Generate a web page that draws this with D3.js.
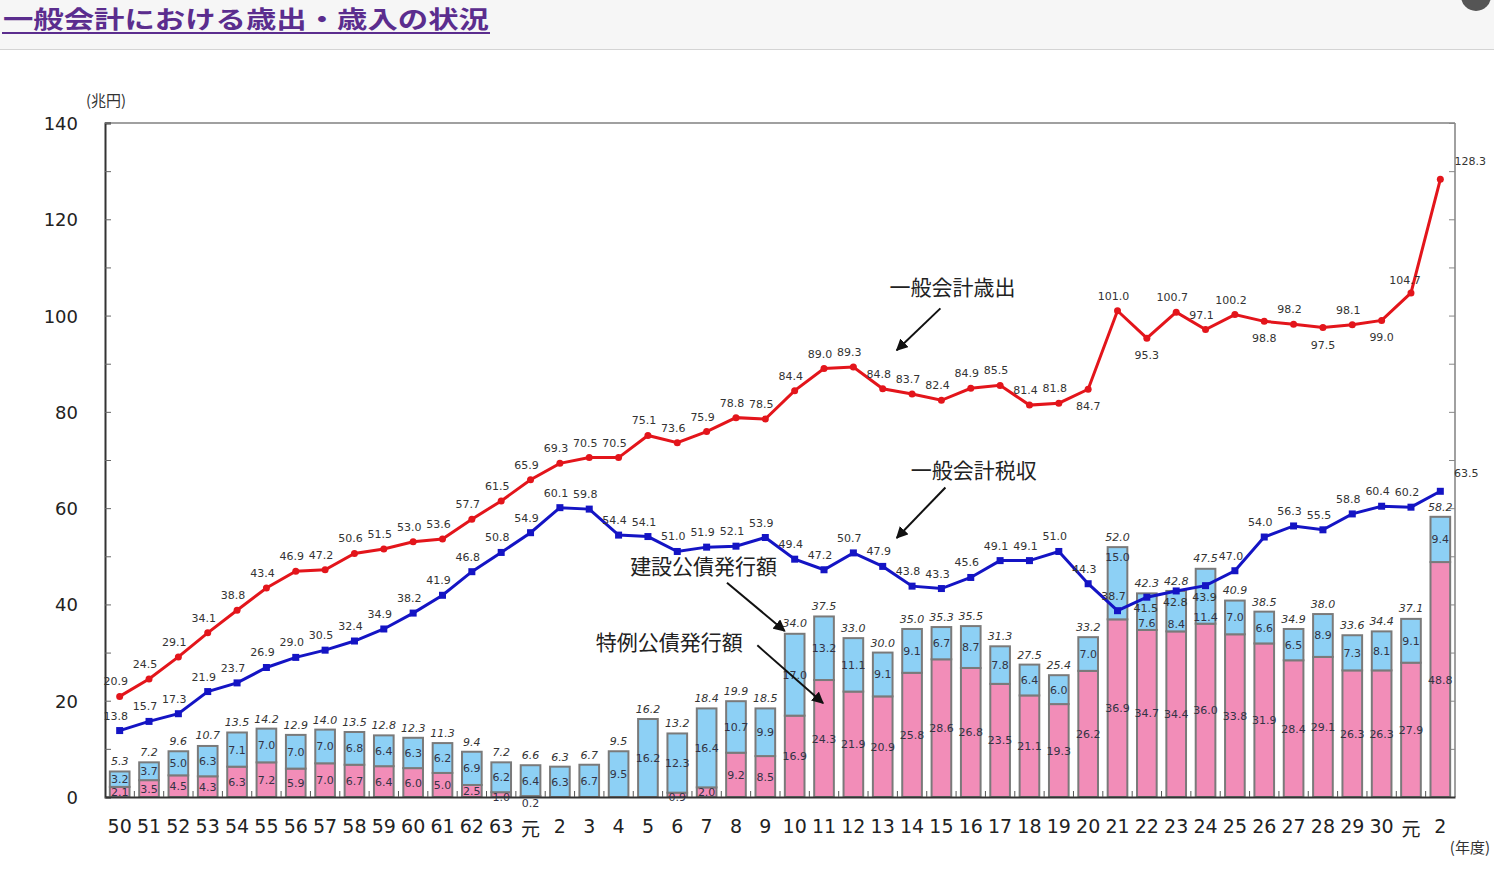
<!DOCTYPE html>
<html><head><meta charset="utf-8">
<script src="https://cdn.jsdelivr.net/npm/d3@7"></script>
<style>
html,body{margin:0;padding:0;background:#fff;}
svg{display:block;}
</style></head>
<body>
<svg id="chart" width="1494" height="869"></svg>
<script>
// ---- data ----
const yearLabels = ["50","51","52","53","54","55","56","57","58","59","60","61","62","63","元","2","3","4","5","6","7","8","9","10","11","12","13","14","15","16","17","18","19","20","21","22","23","24","25","26","27","28","29","30","元","2"];
const expenditure = [20.9,24.5,29.1,34.1,38.8,43.4,46.9,47.2,50.6,51.5,53.0,53.6,57.7,61.5,65.9,69.3,70.5,70.5,75.1,73.6,75.9,78.8,78.5,84.4,89.0,89.3,84.8,83.7,82.4,84.9,85.5,81.4,81.8,84.7,101.0,95.3,100.7,97.1,100.2,98.8,98.2,97.5,98.1,99.0,104.7,128.3];
const taxRevenue = [13.8,15.7,17.3,21.9,23.7,26.9,29.0,30.5,32.4,34.9,38.2,41.9,46.8,50.8,54.9,60.1,59.8,54.4,54.1,51.0,51.9,52.1,53.9,49.4,47.2,50.7,47.9,43.8,43.3,45.6,49.1,49.1,51.0,44.3,38.7,41.5,42.8,43.9,47.0,54.0,56.3,55.5,58.8,60.4,60.2,63.5];
const bondTotal = [5.3,7.2,9.6,10.7,13.5,14.2,12.9,14.0,13.5,12.8,12.3,11.3,9.4,7.2,6.6,6.3,6.7,9.5,16.2,13.2,18.4,19.9,18.5,34.0,37.5,33.0,30.0,35.0,35.3,35.5,31.3,27.5,25.4,33.2,52.0,42.3,42.8,47.5,40.9,38.5,34.9,38.0,33.6,34.4,37.1,58.2];
const constructionBonds = [3.2,3.7,5.0,6.3,7.1,7.0,7.0,7.0,6.8,6.4,6.3,6.2,6.9,6.2,6.4,6.3,6.7,9.5,16.2,12.3,16.4,10.7,9.9,17.0,13.2,11.1,9.1,9.1,6.7,8.7,7.8,6.4,6.0,7.0,15.0,7.6,8.4,11.4,7.0,6.6,6.5,8.9,7.3,8.1,9.1,9.4];
const specialBonds = [2.1,3.5,4.5,4.3,6.3,7.2,5.9,7.0,6.7,6.4,6.0,5.0,2.5,1.0,0.2,0,0,0,0,0.9,2.0,9.2,8.5,16.9,24.3,21.9,20.9,25.8,28.6,26.8,23.5,21.1,19.3,26.2,36.9,34.7,34.4,36.0,33.8,31.9,28.4,29.1,26.3,26.3,27.9,48.8];
const yTicks = [0,20,40,60,80,100,120,140];
// label placement exceptions
const expBelow = [33,35,39,41,43];
const taxBelow = [35,36,37];
const cbLow = [35,36,37];
const cbHigh = [34];

const svg = d3.select("#chart");
const W = 1494, H = 869;
const m = {left:105, right:1455, top:123, bottom:797};
const jp = "'Noto Sans CJK JP','Noto Sans',sans-serif";
const num = "'DejaVu Sans',Verdana,sans-serif";

// header
svg.append("rect").attr("x",0).attr("y",0).attr("width",W).attr("height",49).attr("fill","#f6f6f6");
svg.append("line").attr("x1",0).attr("x2",W).attr("y1",49.5).attr("y2",49.5).attr("stroke","#d4d4d4");
svg.append("circle").attr("cx",1476).attr("cy",-4).attr("r",15).attr("fill","#555");
svg.append("text").attr("x",3).attr("y",28).attr("font-family",jp).attr("font-weight","bold")
  .attr("font-size",24).attr("fill","#5b2d8e").attr("textLength",486).attr("lengthAdjust","spacingAndGlyphs")
  .text("一般会計における歳出・歳入の状況");
svg.append("line").attr("x1",2).attr("x2",490).attr("y1",33).attr("y2",33).attr("stroke","#5b2d8e").attr("stroke-width",2);

const idx = d3.range(yearLabels.length);
const x = d3.scaleBand().domain(idx).range([m.left, m.right]).paddingInner(0.33).paddingOuter(0.165);
const xc = i => x(i) + x.bandwidth()/2;
const y = d3.scaleLinear().domain([0,140]).range([m.bottom, m.top]);

// frame
svg.append("line").attr("x1",m.left).attr("x2",m.right).attr("y1",m.top).attr("y2",m.top).attr("stroke","#a0a0a0").attr("stroke-width",2);
svg.append("line").attr("x1",m.right).attr("x2",m.right).attr("y1",m.top).attr("y2",m.bottom).attr("stroke","#a0a0a0").attr("stroke-width",2);

// left axis
const minor = d3.range(0,141,10);
const gL = svg.append("g").attr("transform",`translate(${m.left},0)`)
  .call(d3.axisRight(y).tickValues(minor).tickSize(6).tickFormat(""));
gL.select(".domain").attr("stroke","#333").attr("stroke-width",2);
gL.selectAll(".tick line").attr("stroke","#666");
const gR = svg.append("g").attr("transform",`translate(${m.right},0)`)
  .call(d3.axisLeft(y).tickValues(minor).tickSize(6).tickFormat(""));
gR.select(".domain").remove();
gR.selectAll(".tick line").attr("stroke","#888");
svg.append("g").selectAll("text").data(yTicks).join("text")
  .attr("x",78).attr("y",d=>y(d)+7).attr("text-anchor","end")
  .attr("font-family",num).attr("font-size",18).attr("fill","#222").text(d=>d);
svg.append("text").attr("x",86).attr("y",106).attr("font-family",jp).attr("font-size",15).attr("fill","#333").text("(兆円)");

// bars
const bw = x.bandwidth();
const gb = svg.append("g");
idx.forEach(i=>{
  const sp = specialBonds[i], cb = constructionBonds[i];
  if (sp>0) gb.append("rect").attr("x",x(i)).attr("width",bw).attr("y",y(sp)).attr("height",y(0)-y(sp))
    .attr("fill","#f28db8").attr("stroke","#7a7a7a").attr("stroke-width",2);
  gb.append("rect").attr("x",x(i)).attr("width",bw).attr("y",y(sp+cb)).attr("height",y(sp)-y(sp+cb))
    .attr("fill","#8dd0f5").attr("stroke","#7a7a7a").attr("stroke-width",2);
});

// bottom axis
const gX = svg.append("g").attr("transform",`translate(0,${m.bottom})`)
  .call(d3.axisBottom(x).tickSize(0).tickFormat(""));
gX.select(".domain").attr("stroke","#333").attr("stroke-width",2);
svg.append("g").selectAll("line").data(idx.slice(1)).join("line")
  .attr("x1",i=>x(i)-x.step()*x.paddingInner()/2).attr("x2",i=>x(i)-x.step()*x.paddingInner()/2)
  .attr("y1",m.bottom).attr("y2",m.bottom-6).attr("stroke","#555");
svg.append("g").selectAll("text").data(idx).join("text")
  .attr("x",i=>xc(i)).attr("y",i=> yearLabels[i]==="元" ? 836 : 833).attr("text-anchor","middle")
  .attr("font-family",i=> yearLabels[i]==="元" ? jp : num).attr("font-size",19)
  .attr("fill","#222").text(i=>yearLabels[i]);
svg.append("text").attr("x",1490).attr("y",853).attr("text-anchor","end").attr("font-family",jp)
  .attr("font-size",15).attr("fill","#333").text("(年度)");

// bar labels
const lab = svg.append("g").attr("font-family",num).attr("font-size",11).attr("fill","#333");
idx.forEach(i=>{
  const sp = specialBonds[i], cb = constructionBonds[i];
  lab.append("text").attr("x",xc(i)).attr("y",y(bondTotal[i])-6).attr("text-anchor","middle")
    .attr("font-style","italic").text(bondTotal[i].toFixed(1));
  let cy = (y(sp)+y(sp+cb))/2+4;
  if (cbLow.includes(i)) cy = y(sp)-3;
  if (cbHigh.includes(i)) cy = y(sp+cb)+14;
  lab.append("text").attr("x",xc(i)).attr("y",cy).attr("text-anchor","middle")
    .attr("fill","#334").text(cb.toFixed(1));
  if (sp>=2) lab.append("text").attr("x",xc(i)).attr("y",(y(0)+y(sp))/2+4).attr("text-anchor","middle")
    .attr("fill","#334").text(sp.toFixed(1));
  else if (sp>0) lab.append("text").attr("x",xc(i)).attr("y",m.bottom+4+(i===14?6:0)).attr("text-anchor","middle")
    .attr("fill","#334").text(sp.toFixed(1));
});

// lines
const line = d3.line().x((d,i)=>xc(i)).y(d=>y(d));
function drawSeries(data, color, marker){
  svg.append("path").datum(data).attr("d",line).attr("fill","none").attr("stroke",color).attr("stroke-width",3);
  const g = svg.append("g");
  if (marker==="circle") g.selectAll("circle").data(data).join("circle").attr("cx",(d,i)=>xc(i)).attr("cy",d=>y(d)).attr("r",3.5).attr("fill",color);
  else g.selectAll("rect").data(data).join("rect").attr("x",(d,i)=>xc(i)-3.5).attr("y",d=>y(d)-3.5).attr("width",7).attr("height",7).attr("fill",color);
}
drawSeries(expenditure,"#e3151b","circle");
drawSeries(taxRevenue,"#1414c4","rect");

const ll = svg.append("g").attr("font-family",num).attr("font-size",11).attr("fill","#333").attr("text-anchor","middle");
expenditure.forEach((v,i)=>{
  let dx=-4, dy=-11;
  if (expBelow.includes(i)) { dx=0; dy=21; }
  if (i===44) { dx=-6; dy=-9; }
  if (i===45) { dx=30; dy=-14; }
  ll.append("text").attr("x",xc(i)+dx).attr("y",y(v)+dy).text(v.toFixed(1));
});
taxRevenue.forEach((v,i)=>{
  let dx=-4, dy=-11;
  if (taxBelow.includes(i)) { dx=-1; dy=15; }
  if (i===45) { dx=26; dy=-14; }
  ll.append("text").attr("x",xc(i)+dx).attr("y",y(v)+dy).text(v.toFixed(1));
});

// annotations
const defs = svg.append("defs");
defs.append("marker").attr("id","ah").attr("viewBox","0 0 10 10").attr("refX",9).attr("refY",5)
  .attr("markerWidth",6).attr("markerHeight",6).attr("orient","auto")
  .append("path").attr("d","M0,0L10,5L0,10z").attr("fill","#111");
const ann = [
  {text:"一般会計歳出", tx:xc(28)+11, ty:y(104.2), x1:xc(28)-1, y1:y(101.5), x2:xc(26)+14, y2:y(92.8)},
  {text:"一般会計税収", tx:xc(29)+3, ty:y(66.3), x1:xc(28)+4, y1:y(64.3), x2:xc(26)+14, y2:y(53.8)},
  {text:"建設公債発行額", tx:xc(20)-3, ty:y(46.3), x1:xc(21)-9, y1:y(44.5), x2:xc(23)-10, y2:y(34.5)},
  {text:"特例公債発行額", tx:xc(19)-8, ty:y(30.5), x1:xc(22)-8, y1:y(31.5), x2:xc(24)-1, y2:y(19.5)}
];
ann.forEach(a=>{
  svg.append("text").attr("x",a.tx).attr("y",a.ty).attr("text-anchor","middle").attr("font-family",jp)
    .attr("font-size",21).attr("fill","#222").text(a.text);
  svg.append("line").attr("x1",a.x1).attr("y1",a.y1).attr("x2",a.x2).attr("y2",a.y2)
    .attr("stroke","#111").attr("stroke-width",2).attr("marker-end","url(#ah)");
});
</script>
</body></html>
